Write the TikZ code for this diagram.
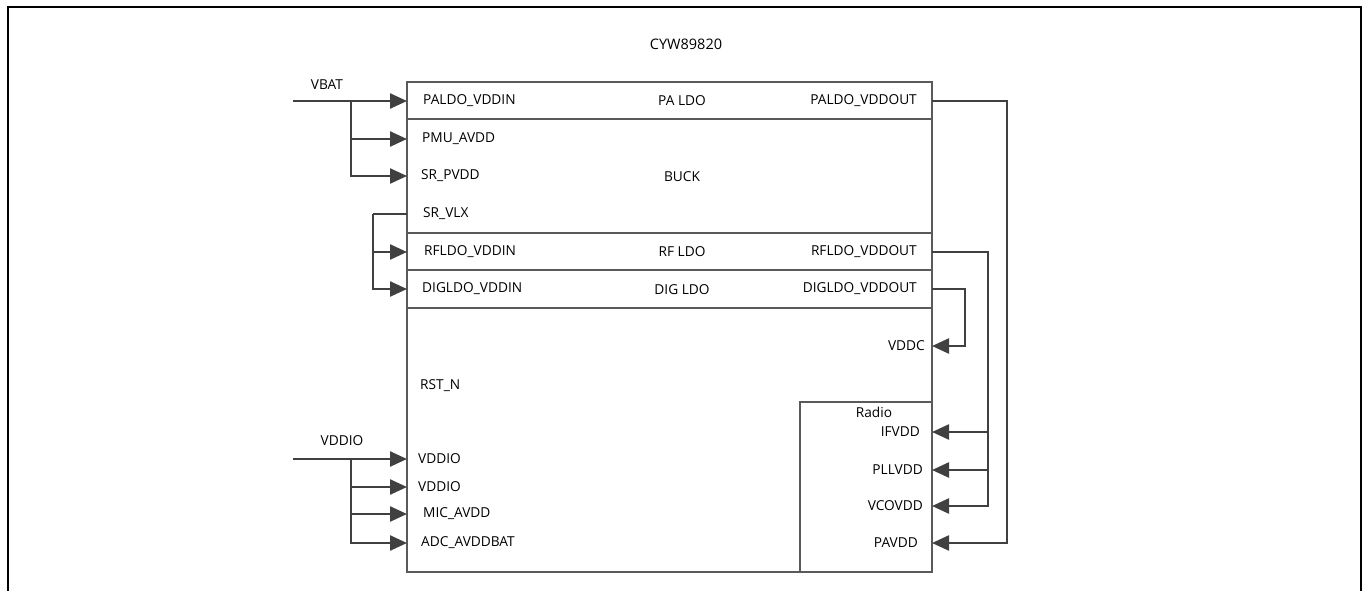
\documentclass[tikz,border=0pt]{standalone}
\usepackage{fontspec}
\setmainfont{Open Sans}
\usetikzlibrary{arrows.meta}
\definecolor{wire}{HTML}{404040}
\definecolor{boxc}{HTML}{5A5A5A}
\tikzset{
  lbl/.style={inner sep=0pt, font=\fontsize{13.7}{16}\selectfont},
  pinL/.style={lbl, anchor=west},
  pinR/.style={lbl, anchor=east},
  wireline/.style={draw=wire, line width=2.4pt},
  arr/.style={wireline, -{Triangle[length=17pt,width=15pt]}},
  blk/.style={draw=boxc, line width=1.1pt},
  frame/.style={draw=black, line width=2.5pt}
}
\begin{document}
\begin{tikzpicture}[x=1pt,y=-1pt]
\useasboundingbox (0,0) rectangle (1369,590);
% outer frame (open at bottom)
\draw[frame] (8,595) -- (8,7) -- (1361,7) -- (1361,595);
\node[lbl, font=\fontsize{14.5}{16}\selectfont] (title) at (686,44) {CYW89820};
% main block
\draw[blk] (407,82) rectangle (932,572);
\draw[blk] (407,119) -- (932,119);
\draw[blk] (407,233) -- (932,233);
\draw[blk] (407,270) -- (932,270);
\draw[blk] (407,308) -- (932,308);
\draw[blk] (800,572) -- (800,402) -- (932,402);
% block names
\node[lbl] (paldo) at (682,101) {PA LDO};
\node[lbl] (buck) at (682,177) {BUCK};
\node[lbl] (rfldo) at (682,252) {RF LDO};
\node[lbl] (digldo) at (682,290) {DIG LDO};
\node[lbl] (radio) at (874,412) {Radio};
% left pins
\coordinate (pIn1) at (407,101);
\coordinate (pIn2) at (407,139);
\coordinate (pIn3) at (407,176);
\coordinate (pIn4) at (407,214);
\coordinate (pIn5) at (407,252);
\coordinate (pIn6) at (407,289);
\coordinate (pIo1) at (407,459);
\coordinate (pIo2) at (407,487);
\coordinate (pIo3) at (407,514);
\coordinate (pIo4) at (407,543);
\node[pinL] (t1) at (423,101) {PALDO\_VDDIN};
\node[pinL] (t2) at (422,139) {PMU\_AVDD};
\node[pinL] (t3) at (421,176) {SR\_PVDD};
\node[pinL] (t4) at (423,214) {SR\_VLX};
\node[pinL] (t5) at (424,252) {RFLDO\_VDDIN};
\node[pinL] (t6) at (422,289) {DIGLDO\_VDDIN};
\node[pinL] (rst) at (420,386) {RST\_N};
\node[pinL] (t7) at (418,459) {VDDIO};
\node[pinL] (t8) at (418,487) {VDDIO};
\node[pinL] (t9) at (423,514) {MIC\_AVDD};
\node[pinL] (t10) at (421,543) {ADC\_AVDDBAT};
% right pins
\coordinate (pOut1) at (932,101);
\coordinate (pOut2) at (932,252);
\coordinate (pOut3) at (932,289);
\coordinate (pVddc) at (932,346);
\coordinate (pIf) at (932,432);
\coordinate (pPll) at (932,470);
\coordinate (pVco) at (932,506);
\coordinate (pPa) at (932,543);
\node[pinR] (o1) at (917,101) {PALDO\_VDDOUT};
\node[pinR] (o2) at (917,252) {RFLDO\_VDDOUT};
\node[pinR] (o3) at (917,289) {DIGLDO\_VDDOUT};
\node[pinR] (vddc) at (925,346) {VDDC};
\node[pinR] (ifv) at (920,432) {IFVDD};
\node[pinR] (pllv) at (923,470) {PLLVDD};
\node[pinR] (vcov) at (923,506) {VCOVDD};
\node[pinR] (pav) at (918,543) {PAVDD};
% supply labels
\node[lbl] (vbat) at (327,85) {VBAT};
\node[lbl] (vddio) at (342,441) {VDDIO};
\coordinate (vbatS) at (293,101);
\coordinate (vbatJ) at (351,101);
\coordinate (vioS) at (293,459);
\coordinate (vioJ) at (351,459);
\coordinate (vlxJ) at (373,214);
% VBAT wiring
\draw[arr] (vbatS) -- (pIn1);
\draw[arr] (vbatJ) |- (pIn3);
\draw[arr] (vbatJ |- pIn2) -- (pIn2);
% SR_VLX wiring
\draw[wireline] (pIn4) -- (vlxJ);
\draw[arr] (vlxJ) |- (pIn6);
\draw[arr] (vlxJ |- pIn5) -- (pIn5);
% VDDIO wiring
\draw[arr] (vioS) -- (pIo1);
\draw[arr] (vioJ) |- (pIo4);
\draw[arr] (vioJ |- pIo2) -- (pIo2);
\draw[arr] (vioJ |- pIo3) -- (pIo3);
% right wiring
\coordinate (paX) at (1007,101);
\coordinate (rfX) at (988,252);
\coordinate (dgX) at (965,289);
\draw[arr] (pOut1) -- (paX) |- (pPa);
\draw[arr] (pOut2) -- (rfX) |- (pVco);
\draw[arr] (rfX |- pIf) -- (pIf);
\draw[arr] (rfX |- pPll) -- (pPll);
\draw[arr] (pOut3) -- (dgX) |- (pVddc);
\end{tikzpicture}
\end{document}
